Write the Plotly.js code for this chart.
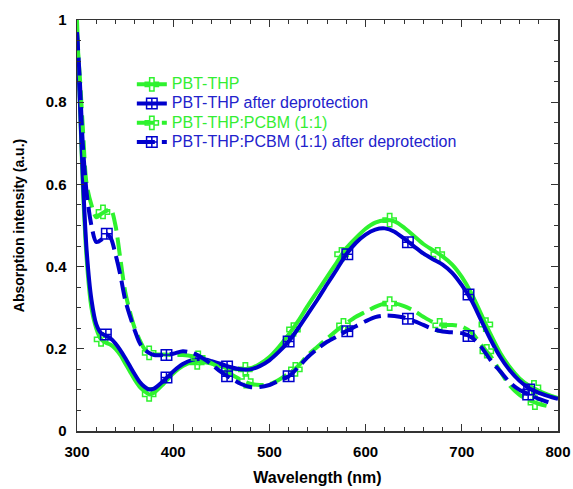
<!DOCTYPE html>
<html>
<head>
<meta charset="utf-8">
<script src="https://cdn.plot.ly/plotly-3.0.1.min.js"></script>
<style>html,body{margin:0;padding:0;background:#fff;}#chart{width:573px;height:489px;}</style>
</head>
<body>
<div id="chart"></div>
<script>
// Wavelength grid (nm)
const wavelength = [300,303,306,310,315,320,325,330,335,340,345,350,355,360,365,370,375,380,390,400,410,420,430,440,450,460,470,480,490,500,510,520,530,540,550,560,570,580,590,600,610,620,630,640,650,660,670,680,690,700,710,720,730,740,750,760,770,780,790,800];

// PBT-THP (green solid)
const pbtThp = [1.0,0.8,0.6,0.42,0.3,0.25,0.223,0.215,0.21,0.2,0.185,0.165,0.145,0.125,0.108,0.097,0.089,0.093,0.115,0.14,0.158,0.167,0.168,0.164,0.157,0.152,0.15,0.152,0.163,0.18,0.205,0.235,0.268,0.305,0.34,0.375,0.41,0.445,0.47,0.492,0.507,0.513,0.51,0.495,0.475,0.455,0.44,0.425,0.405,0.375,0.335,0.285,0.235,0.19,0.155,0.128,0.11,0.098,0.088,0.08];
// PBT-THP after deprotection (blue solid)
const pbtThpDep = [0.97,0.8,0.62,0.44,0.32,0.26,0.238,0.232,0.225,0.213,0.197,0.178,0.158,0.138,0.12,0.108,0.101,0.103,0.122,0.145,0.163,0.173,0.175,0.17,0.163,0.155,0.15,0.15,0.158,0.172,0.193,0.218,0.25,0.285,0.32,0.357,0.393,0.43,0.458,0.478,0.49,0.493,0.485,0.468,0.45,0.432,0.418,0.405,0.385,0.355,0.318,0.27,0.222,0.18,0.147,0.122,0.104,0.093,0.085,0.078];
// PBT-THP:PCBM (1:1) (green dashed)
const pbtPcbm = [0.95,0.86,0.74,0.6,0.55,0.52,0.528,0.535,0.54,0.5,0.42,0.34,0.29,0.25,0.222,0.2,0.19,0.187,0.186,0.185,0.185,0.182,0.175,0.165,0.152,0.138,0.125,0.115,0.112,0.114,0.125,0.14,0.158,0.185,0.205,0.225,0.245,0.262,0.278,0.29,0.302,0.31,0.31,0.304,0.293,0.278,0.265,0.258,0.258,0.254,0.24,0.21,0.182,0.145,0.11,0.088,0.075,0.066,0.06,null];
// PBT-THP:PCBM (1:1) after deprotection (blue dashed)
const pbtPcbmDep = [0.97,0.85,0.7,0.58,0.5,0.46,0.465,0.48,0.47,0.43,0.38,0.32,0.28,0.245,0.215,0.198,0.19,0.185,0.185,0.188,0.194,0.19,0.178,0.162,0.143,0.128,0.115,0.107,0.107,0.112,0.122,0.133,0.155,0.18,0.2,0.217,0.23,0.243,0.255,0.267,0.277,0.281,0.28,0.276,0.268,0.258,0.248,0.242,0.24,0.238,0.228,0.205,0.172,0.145,0.118,0.1,0.089,0.078,0.07,null];

// Marker positions
const pbtThpMarkX = [325,375,425,475,525,575,625,675,725,775];
const pbtThpMarkY = [0.223,0.089,0.167,0.15,0.247,0.43,0.513,0.43,0.259,0.106];
const pbtThpDepMarkX = [330,393,456,520,581,644,707,770];
const pbtThpDepMarkY = [0.235,0.13,0.157,0.218,0.43,0.459,0.332,0.101];
const pbtPcbmMarkX = [327,375,426,476,527,577,625,677,726,776];
const pbtPcbmMarkY = [0.533,0.19,0.178,0.121,0.15,0.257,0.31,0.257,0.194,0.069];
const pbtPcbmDepMarkX = [331,393,456,520,581,644,707,769];
const pbtPcbmDepMarkY = [0.48,0.185,0.133,0.133,0.243,0.273,0.231,0.089];

const seriesNames = ['PBT-THP','PBT-THP after deprotection','PBT-THP:PCBM (1:1)','PBT-THP:PCBM (1:1) after deprotection'];

const GREEN = '#2ef22e', BLUE = '#0000cc';
const GREEN_TXT = '#33ee33', BLUE_TXT = '#2222cc';
const DASH = '18px,7px';

const defs = [
  {y: pbtThp, mx: pbtThpMarkX, my: pbtThpMarkY, color: GREEN, txt: GREEN_TXT, dash: 'solid', sym: 'cross-open', ms: 11},
  {y: pbtThpDep, mx: pbtThpDepMarkX, my: pbtThpDepMarkY, color: BLUE, txt: BLUE_TXT, dash: 'solid', sym: 'square-cross-open', ms: 10.5},
  {y: pbtPcbm, mx: pbtPcbmMarkX, my: pbtPcbmMarkY, color: GREEN, txt: GREEN_TXT, dash: DASH, sym: 'cross-open', ms: 11},
  {y: pbtPcbmDep, mx: pbtPcbmDepMarkX, my: pbtPcbmDepMarkY, color: BLUE, txt: BLUE_TXT, dash: DASH, sym: 'square-cross-open', ms: 10.5}
];

const traces = [];
defs.forEach((d, i) => {
  traces.push({
    x: wavelength, y: d.y, type: 'scatter', mode: 'lines',
    line: {color: d.color, width: 4, dash: d.dash, shape: 'spline', smoothing: 0.8},
    showlegend: false, legendgroup: 'g' + i, hoverinfo: 'skip'
  });
  traces.push({
    x: d.mx, y: d.my, type: 'scatter', mode: 'markers',
    marker: {symbol: d.sym, size: d.ms, color: d.color, line: {color: d.color, width: 1.5}},
    showlegend: false, legendgroup: 'g' + i
  });
});
// legend entries
defs.forEach((d, i) => {
  traces.push({
    x: [null], y: [null], type: 'scatter', mode: 'lines+markers',
    name: '<span style="color:' + d.txt + ';font-size:16px">' + seriesNames[i] + '</span>',
    line: {color: d.color, width: 4, dash: d.dash},
    marker: {symbol: d.sym, size: d.ms, color: d.color, line: {color: d.color, width: 1.5}},
    legendgroup: 'g' + i, showlegend: true
  });
});

const axisCommon = {
  showgrid: false, zeroline: false, showline: true, linecolor: '#333', linewidth: 1.5,
  mirror: 'allticks', ticks: 'inside', ticklen: 7, tickwidth: 1, tickcolor: '#333',
  tickfont: {family: 'Liberation Sans, Arial, sans-serif', size: 15, color: '#000', weight: 'bold'}
};

const layout = {
  width: 573, height: 489,
  margin: {l: 77, r: 15, t: 20, b: 58},
  paper_bgcolor: '#fff', plot_bgcolor: '#fff',
  font: {family: 'Liberation Sans, Arial, sans-serif', color: '#000'},
  xaxis: Object.assign({}, axisCommon, {
    range: [300, 800], dtick: 100, tick0: 300,
    minor: {dtick: 20, ticks: 'inside', ticklen: 4, tickcolor: '#333'},
    title: {text: '<b>Wavelength (nm)</b>', font: {size: 16}, standoff: 13},
    ticklabelstandoff: 6
  }),
  yaxis: Object.assign({}, axisCommon, {
    range: [0, 1], dtick: 0.2, tick0: 0,
    minor: {dtick: 0.05, ticks: 'inside', ticklen: 4, tickcolor: '#333'},
    title: {text: '<b>Absorption intensity (a.u.)</b>', font: {size: 14}, standoff: 17},
    ticklabelstandoff: 6
  }),
  legend: {
    x: 0.114, y: 0.879, xanchor: 'left', yanchor: 'top',
    bgcolor: 'rgba(0,0,0,0)', borderwidth: 0,
    font: {size: 12.5, family: 'Liberation Sans, Arial, sans-serif'},
    tracegroupgap: 0
  },
  showlegend: true
};

Plotly.newPlot('chart', traces, layout, {staticPlot: true, displayModeBar: false});
</script>
</body>
</html>
